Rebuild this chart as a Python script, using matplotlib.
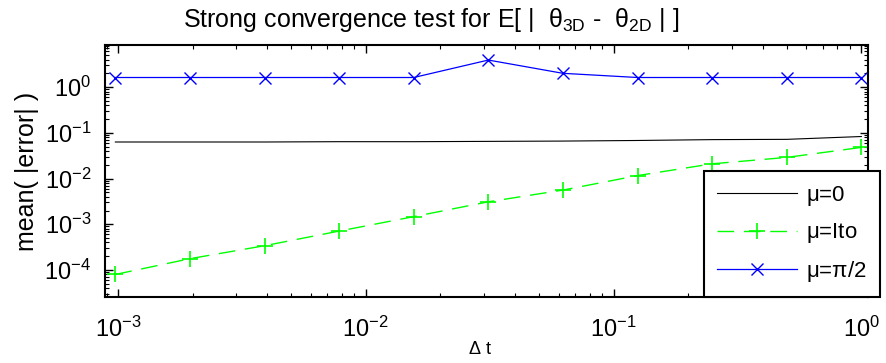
import numpy as np
import matplotlib
matplotlib.use('Agg')
from matplotlib import pyplot as plt
from matplotlib.ticker import LogLocator, NullFormatter

plt.rcParams['font.family'] = ['Liberation Sans', 'DejaVu Sans']
plt.rcParams['mathtext.fontset'] = 'custom'
plt.rcParams['mathtext.rm'] = 'Liberation Sans'
plt.rcParams['mathtext.it'] = 'Liberation Sans'

# time steps 2^-10 ... 2^0
dt = [2.0 ** k for k in range(-10, 1)]

# mean |error| for each drift choice
err_mu0 = [0.063, 0.063, 0.063, 0.064, 0.064, 0.065, 0.066, 0.068, 0.071, 0.072, 0.083]
err_ito = [8.0e-5, 1.77e-4, 3.4e-4, 7.1e-4, 1.47e-3, 3.1e-3, 5.6e-3, 1.16e-2, 2.1e-2, 2.9e-2, 4.8e-2]
err_pi2 = [1.62, 1.62, 1.62, 1.62, 1.62, 3.9, 2.0, 1.62, 1.62, 1.62, 1.62]

labels = [r'$\mathregular{\mu}$=0', r'$\mathregular{\mu}$=Ito', r'$\mathregular{\mu}$=$\mathregular{\pi}$/2']

fig = plt.figure(figsize=(8.87, 3.63), dpi=100)
ax = fig.add_axes([0.1184, 0.1818, 0.8602, 0.6942])

ax.loglog(dt, err_mu0, color='black', lw=0.8, label=labels[0])
ax.loglog(dt, err_ito, color=(0, 1, 0), lw=1, dashes=(12, 7), marker='+',
          markersize=12, markeredgewidth=1.2, label=labels[1])
ax.loglog(dt, err_pi2, color=(0, 0, 1), lw=0.9, marker='x',
          markersize=8, markeredgewidth=1, label=labels[2])

ax.set_xlim(10 ** -3.052, 10 ** 0.027)
ax.set_ylim(10 ** -4.59, 10 ** 0.92)

ax.xaxis.set_major_locator(LogLocator(base=10, numticks=10))
ax.yaxis.set_major_locator(LogLocator(base=10, numticks=10))
ax.xaxis.set_minor_locator(LogLocator(base=10, subs=np.arange(2, 10), numticks=20))
ax.yaxis.set_minor_locator(LogLocator(base=10, subs=np.arange(2, 10), numticks=20))
ax.xaxis.set_minor_formatter(NullFormatter())
ax.yaxis.set_minor_formatter(NullFormatter())

ax.tick_params(which='both', direction='in', top=True, right=True, labelsize=17)
ax.tick_params(which='major', length=6, width=1)
ax.tick_params(which='minor', length=3, width=0.8)
ax.tick_params(axis='x', which='major', pad=14)
ax.tick_params(axis='y', which='major', pad=10)
for s in ax.spines.values():
    s.set_linewidth(1.5)

fig.text(183 / 887, 1 - 27 / 363,
         r'Strong convergence test for E[ |  $\mathregular{\theta_{3D}}$ -  $\mathregular{\theta_{2D}}$ | ]',
         fontsize=18, ha='left', va='baseline')
ax.set_ylabel('mean( |error| )', fontsize=18, labelpad=4)
fig.text(480 / 887, 1 - 349 / 363, r'$\mathregular{\Delta}$ t', fontsize=13, ha='center', va='center')

leg = ax.legend(loc='lower left', bbox_to_anchor=(704 / 887, 66 / 363),
                bbox_transform=fig.transFigure, fontsize=16, fancybox=False,
                framealpha=1, edgecolor='black', handlelength=3.6,
                borderpad=0.6, labelspacing=0.6, handletextpad=0.4, borderaxespad=0)
leg.get_frame().set_linewidth(1.5)

plt.savefig('out.png', dpi=100)
